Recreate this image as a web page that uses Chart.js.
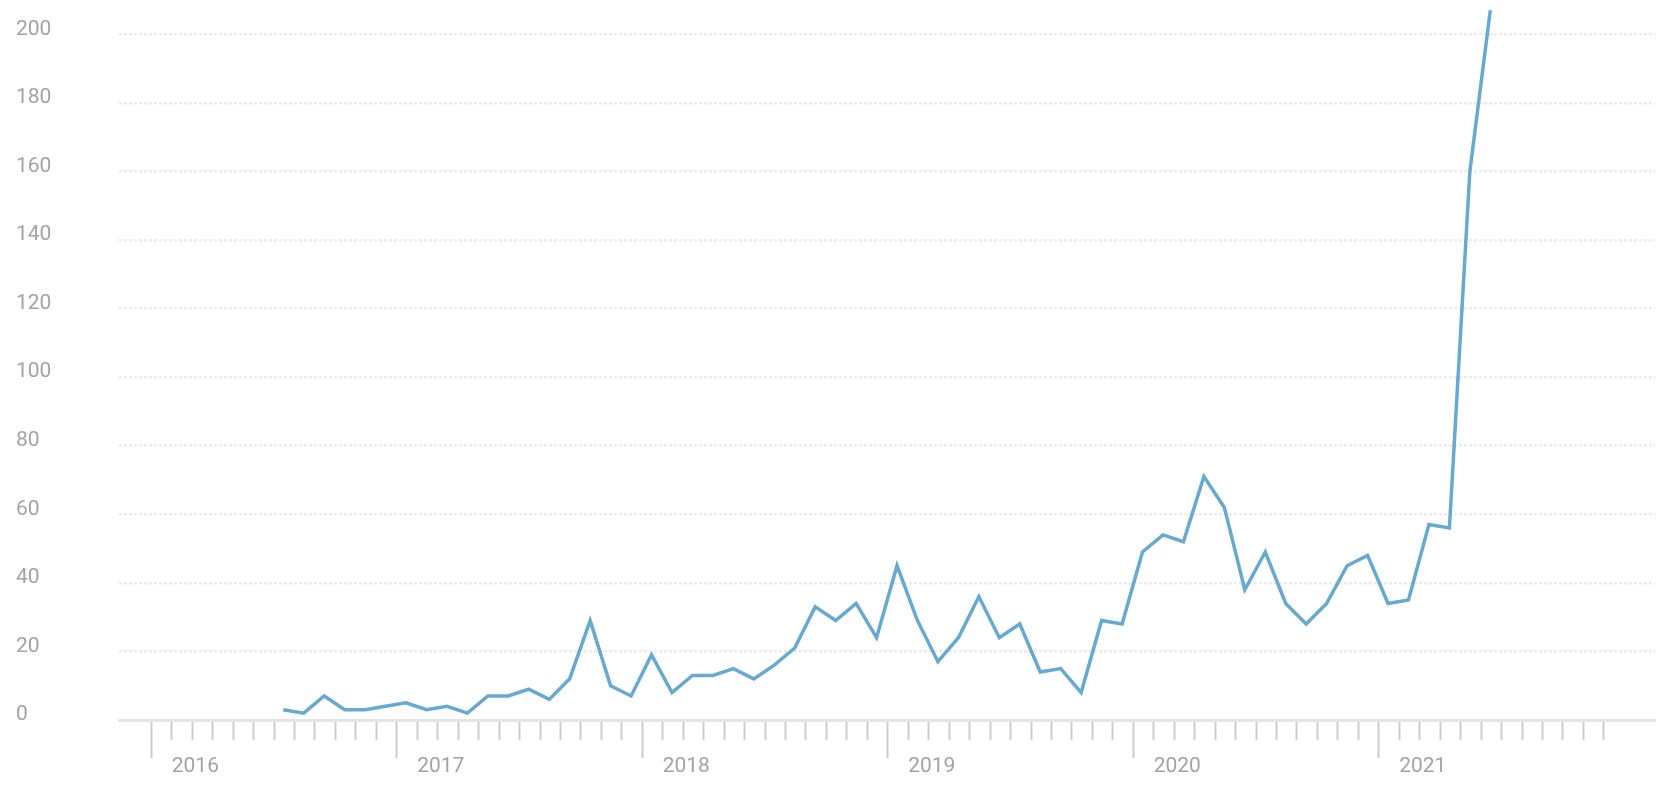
<!DOCTYPE html>
<html>
<head>
<meta charset="utf-8">
<script src="https://cdn.jsdelivr.net/npm/chart.js@4.4.0/dist/chart.umd.min.js"></script>
<style>
  html, body { margin: 0; padding: 0; background: #fff; }
  #wrap { width: 1668px; height: 812px; }
</style>
</head>
<body>
<div id="wrap"><canvas id="trend" width="1668" height="812"></canvas></div>
<script>
// monthly counts, one per month
var months = [
  '2016-07', '2016-08', '2016-09', '2016-10', '2016-11', '2016-12',
  '2017-01', '2017-02', '2017-03', '2017-04', '2017-05', '2017-06', '2017-07', '2017-08', '2017-09', '2017-10', '2017-11', '2017-12',
  '2018-01', '2018-02', '2018-03', '2018-04', '2018-05', '2018-06', '2018-07', '2018-08', '2018-09', '2018-10', '2018-11', '2018-12',
  '2019-01', '2019-02', '2019-03', '2019-04', '2019-05', '2019-06', '2019-07', '2019-08', '2019-09', '2019-10', '2019-11', '2019-12',
  '2020-01', '2020-02', '2020-03', '2020-04', '2020-05', '2020-06', '2020-07', '2020-08', '2020-09', '2020-10', '2020-11', '2020-12',
  '2021-01', '2021-02', '2021-03', '2021-04', '2021-05', '2021-06'
];
var counts = [
  3, 2, 7, 3, 3, 4,
  5, 3, 4, 2, 7, 7, 9, 6, 12, 29, 10, 7,
  19, 8, 13, 13, 15, 12, 16, 21, 33, 29, 34, 24,
  45, 29, 17, 24, 36, 24, 28, 14, 15, 8, 29, 28,
  49, 54, 52, 71, 62, 38, 49, 34, 28, 34, 45, 48,
  34, 35, 57, 56, 160, 207
];
var years = ['2016', '2017', '2018', '2019', '2020', '2021'];
var yTicks = [0, 20, 40, 60, 80, 100, 120, 140, 160, 180, 200];

var firstYear = parseInt(years[0], 10);
var labelFont = { family: 'Roboto', size: 21 };
var labelColor = '#a3a3a3';
var tickColor = '#cccccc';

// month index from Jan of first year, point sits mid-month
var toX = function (ym) {
    var parts = ym.split('-');
    return (parseInt(parts[0], 10) - firstYear) * 12 + parseInt(parts[1], 10) - 1 + 0.45;
};

var points = [];
for (var i = 0; i < months.length; i++) {
    points.push({ x: toX(months[i]), y: counts[i] });
}

var xMin = -1.58;
var xMax = 73.5;

var ctx = document.getElementById('trend').getContext('2d');
var chart = new Chart(ctx, {
    type: 'line',
    data: {
        datasets: [{
            label: 'count',
            data: points,
            borderColor: '#67a9cf',
            borderWidth: 3.5,
            pointRadius: 0,
            tension: 0,
            fill: false
        }]
    },
    options: {
        responsive: false,
        animation: false,
        devicePixelRatio: 1,
        layout: { padding: { left: 16, right: 13, top: 0, bottom: 0 } },
        plugins: {
            legend: { display: false },
            tooltip: { enabled: false }
        },
        scales: {
            x: {
                type: 'linear',
                position: 'bottom',
                weight: 0,
                min: xMin,
                max: xMax,
                afterBuildTicks: function (scale) {
                    var t = [];
                    for (var y = 0; y < years.length; y++) {
                        for (var m = 0; m < 12; m++) t.push({ value: y * 12 + m });
                    }
                    scale.ticks = t;
                },
                ticks: { display: false },
                grid: {
                    drawOnChartArea: false,
                    drawTicks: true,
                    tickLength: 20,
                    tickColor: tickColor,
                    tickWidth: 2
                },
                border: { display: true, color: '#e4e4e4', width: 3 },
                afterFit: function (scale) {
                    scale.height = 20;
                    scale.paddingLeft = 0;
                    scale.paddingRight = 0;
                }
            },
            years: {
                type: 'linear',
                position: 'bottom',
                weight: 1,
                min: xMin,
                max: xMax,
                afterBuildTicks: function (scale) {
                    scale.ticks = years.map(function (y, i) { return { value: i * 12 }; });
                },
                ticks: {
                    autoSkip: false,
                    maxRotation: 0,
                    labelOffset: 44,
                    padding: -4,
                    font: labelFont,
                    color: labelColor,
                    callback: function (value) {
                        return years[Math.round(value / 12)];
                    }
                },
                grid: {
                    drawOnChartArea: false,
                    drawTicks: true,
                    tickLength: 18,
                    tickColor: tickColor,
                    tickWidth: 2
                },
                border: { display: false },
                afterFit: function (scale) {
                    scale.height = 72;
                    scale.paddingLeft = 0;
                    scale.paddingRight = 0;
                }
            },
            y: {
                type: 'linear',
                min: 0,
                max: 210,
                afterBuildTicks: function (scale) {
                    scale.ticks = yTicks.map(function (v) { return { value: v }; });
                },
                ticks: {
                    crossAlign: 'far',
                    labelOffset: -5,
                    padding: 0,
                    font: labelFont,
                    color: labelColor
                },
                grid: {
                    color: function (c) { return c.tick && c.tick.value === 0 ? 'rgba(0,0,0,0)' : '#ebebeb'; },
                    lineWidth: 2.5,
                    drawTicks: false
                },
                border: { display: false, dash: [3, 2] },
                afterFit: function (scale) {
                    scale.width = 103;
                    scale.paddingTop = 0;
                    scale.paddingBottom = 0;
                }
            }
        }
    }
});
</script>
</body>
</html>
